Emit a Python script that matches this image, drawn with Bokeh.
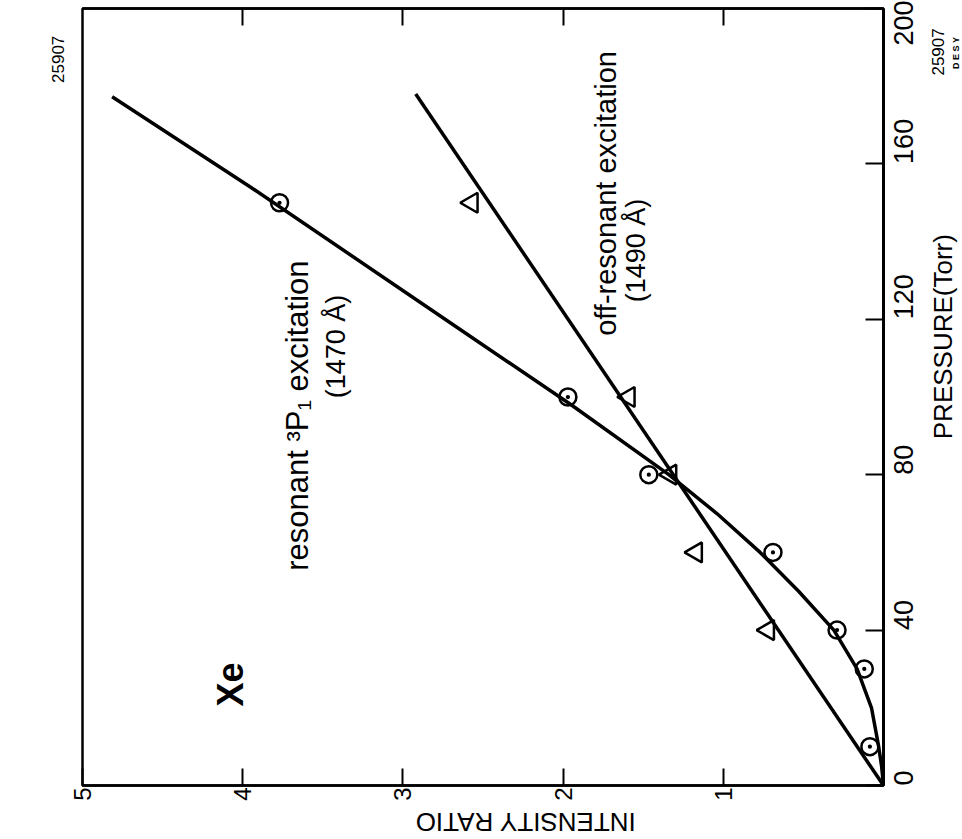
import numpy as np
from bokeh.plotting import figure
from bokeh.layouts import row, column
from bokeh.models import Range1d, LinearAxis, FixedTicker
from bokeh.core.properties import value
from bokeh.embed import file_html
from bokeh.resources import INLINE

# ---- data (pressure in Torr, intensity ratio) ----
res_pressure = [10, 30, 40, 60, 80, 100, 150]
res_ratio = [0.085, 0.12, 0.29, 0.69, 1.465, 1.97, 3.77]

off_pressure = [40, 60, 80, 100, 150]
off_ratio = [0.72, 1.17, 1.33, 1.59, 2.57]

res_curve_pressure = [0, 5, 10, 20, 30, 40, 50, 60, 70, 80, 98, 119, 154, 177.3]
res_curve_ratio = [0, 0.012, 0.03, 0.075, 0.165, 0.31, 0.53, 0.77, 1.04, 1.34, 1.95, 2.70, 3.95, 4.815]

off_line_pressure = [0, 178]
off_line_ratio = [0, 2.92]

ratio_ticks = [0, 1, 2, 3, 4, 5]
pressure_ticks = [0, 40, 80, 120, 160, 200]
pressure_label_pos = [0, 40, 80, 120, 160, 195]

FONT = "Liberation Sans"
ROT = np.pi / 2
W1, H1 = 927, 805      # main figure
W2 = 962 - W1          # right strip
H3 = 839 - H1          # bottom strip
BL, BR = 82, 44        # left / right borders of the main frame

x_range = Range1d(5, 0)
y_range = Range1d(0, 200)

p = figure(width=W1, height=H1, x_range=x_range, y_range=y_range,
           output_backend="svg", toolbar_location=None,
           y_axis_location="right",
           min_border_left=BL, min_border_right=BR,
           min_border_top=8, min_border_bottom=20)
p.xgrid.visible = False
p.ygrid.visible = False
p.outline_line_color = "black"
p.outline_line_width = 2.5
p.outline_line_alpha = 1.0
p.background_fill_color = "white"
p.border_fill_color = "white"


def quiet(ax):
    ax.minor_tick_in = 0
    ax.minor_tick_out = 0
    ax.major_tick_out = 0


def label_axis(ticks, overrides, orient, size, standoff, style="normal"):
    ax = LinearAxis(ticker=FixedTicker(ticks=ticks),
                    major_label_overrides=overrides,
                    major_tick_in=0, axis_line_color=None,
                    major_label_orientation=orient,
                    major_label_text_font=FONT, major_label_text_font_size=size,
                    major_label_text_font_style=style,
                    major_label_text_color="black",
                    major_label_standoff=standoff)
    quiet(ax)
    return ax


# bottom axis: intensity ratio (reversed, labels rotated)
xa = p.xaxis[0]
quiet(xa)
xa.ticker = FixedTicker(ticks=ratio_ticks)
xa.major_label_overrides = {0: ""}
xa.major_tick_in = 17
xa.major_tick_line_width = 2
xa.axis_line_width = 2.5
xa.major_label_orientation = ROT
xa.major_label_text_font = FONT
xa.major_label_text_font_size = "24px"
xa.major_label_text_color = "black"
xa.major_label_standoff = 2

# right axis: pressure ticks only
ya = p.yaxis[0]
quiet(ya)
ya.ticker = FixedTicker(ticks=pressure_ticks)
ya.major_label_overrides = {t: "" for t in pressure_ticks}
ya.major_label_text_font_size = "0px"
ya.major_label_standoff = 0
ya.major_tick_in = 18
ya.major_tick_line_width = 2
ya.axis_line_width = 3

# right axis: pressure tick labels
p.add_layout(label_axis(pressure_label_pos, {195: "200"}, ROT, "27px", 20), "right")

# left: stamp number
p.add_layout(label_axis([193], {193: "25907"}, ROT, "17px", 24), "left")

# top axis: ticks only
top = LinearAxis(ticker=FixedTicker(ticks=[1, 2, 3, 4]),
                 major_tick_in=17, major_tick_line_width=2, axis_line_width=2.5,
                 major_label_text_font_size="0px",
                 major_label_overrides={1: "", 2: "", 3: "", 4: ""},
                 major_label_standoff=0)
quiet(top)
p.add_layout(top, "above")

# curves
p.line(res_curve_ratio, res_curve_pressure, line_color="black", line_width=3.5)
p.line(off_line_ratio, off_line_pressure, line_color="black", line_width=3.5)

# markers
p.scatter(res_ratio, res_pressure, marker="circle_dot", size=17,
          line_color="black", line_width=2.5, fill_color=None)
p.scatter(off_ratio, off_pressure, marker="triangle", size=20, angle=ROT,
          line_color="black", line_width=2.5, fill_color=None)


def rtext(fig, x, y, t, size, style="normal", angle=ROT):
    fig.text(x=[x], y=[y], text=[t], angle=angle,
             text_font=value(FONT), text_font_style=style, text_font_size=size,
             text_align="center", text_baseline="middle", text_color="black")


# in-plot texts
rtext(p, 4.076, 26.0, "Xe", "36px", "bold")
rtext(p, 3.66, 95.2, "resonant \u00b3P\u2081 excitation", "31px")
rtext(p, 3.42, 113.0, "(1470 \u00c5)", "27px")
rtext(p, 1.735, 152.4, "off-resonant excitation", "29px")
rtext(p, 1.545, 137.7, "(1490 \u00c5)", "27px")


def strip(w, h, xr, yr, **kw):
    f = figure(width=w, height=h, x_range=xr, y_range=yr,
               output_backend="svg", toolbar_location=None,
               x_axis_location=None, y_axis_location=None, **kw)
    f.outline_line_color = None
    f.grid.visible = False
    f.background_fill_color = "white"
    f.border_fill_color = "white"
    return f


# right strip: axis title and scanner stamp
p2 = strip(W2, H1, Range1d(0, W2), Range1d(0, H1), min_border=0)
rtext(p2, 15, H1 - 340, "PRESSURE(Torr)", "26px")
rtext(p2, 10, H1 - 45, "25907", "17px")
rtext(p2, 28, H1 - 46, "D E S Y", "9px", "bold")

# bottom strip: axis title (upside down), aligned with the main frame
p3 = strip(W1, H3, x_range, Range1d(0, H3),
           min_border_left=BL, min_border_right=BR,
           min_border_top=0, min_border_bottom=0)
rtext(p3, 2.235, H3 - 16, "INTENSITY RATIO", "26px", angle=np.pi)

layout = column(row(p, p2), p3)
open("out.html", "w").write(file_html(layout, INLINE))
